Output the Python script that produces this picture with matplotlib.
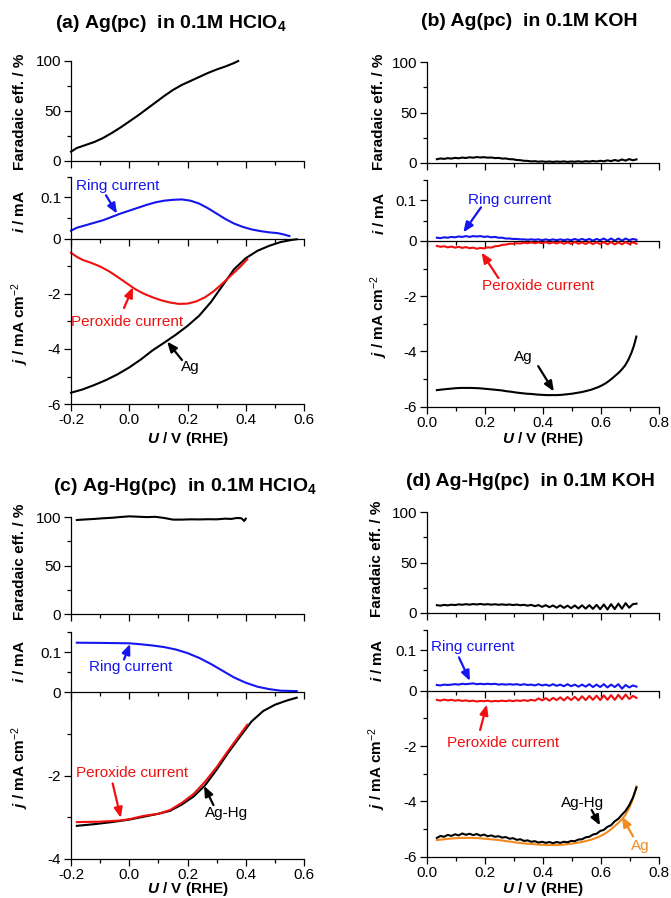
import numpy as np
import matplotlib
matplotlib.use("Agg")
import matplotlib.pyplot as plt
from matplotlib.ticker import MultipleLocator, FixedLocator, FuncFormatter

plt.rcParams['font.family'] = ['Liberation Sans', 'DejaVu Sans']
plt.rcParams['mathtext.fontset'] = 'custom'
plt.rcParams['mathtext.rm'] = 'Liberation Sans'
plt.rcParams['mathtext.it'] = 'Liberation Sans:italic:bold'
plt.rcParams['mathtext.bf'] = 'Liberation Sans:bold'

BLUE = '#1515F0'
RED = '#F01010'
ORANGE = '#F28A1E'
BLACK = '#000000'

# ---------------- Panel (a): Ag(pc) in HClO4 ----------------
U_fe_a = [-0.2, -0.18, -0.15, -0.12, -0.09, -0.06, -0.03, 0.0, 0.03, 0.06, 0.09, 0.12,
          0.15, 0.18, 0.21, 0.24, 0.27, 0.30, 0.33, 0.36, 0.374]
fe_a = [9.3, 13, 16, 19, 23, 28, 33.5, 39.5, 45.5, 52, 58.5, 65,
        71, 76, 80, 84, 88, 91.5, 94.5, 98, 100]

U_ring_a = [-0.2, -0.18, -0.15, -0.12, -0.09, -0.06, -0.03, 0.0, 0.03, 0.06, 0.09, 0.12,
            0.15, 0.18, 0.21, 0.24, 0.27, 0.30, 0.33, 0.36, 0.39, 0.42, 0.45, 0.48,
            0.51, 0.53, 0.55]
ring_a = [0.020, 0.027, 0.033, 0.039, 0.045, 0.053, 0.061, 0.068, 0.075, 0.082, 0.088, 0.092,
          0.094, 0.095, 0.092, 0.085, 0.074, 0.061, 0.048, 0.037, 0.029, 0.023, 0.019, 0.016,
          0.014, 0.011, 0.007]

U_perox_a = [-0.2, -0.18, -0.16, -0.13, -0.1, -0.07, -0.04, -0.01, 0.02, 0.05, 0.08, 0.11,
             0.14, 0.17, 0.20, 0.23, 0.26, 0.29, 0.32, 0.35, 0.38, 0.405]
perox_a = [-0.50, -0.65, -0.76, -0.87, -1.0, -1.17, -1.38, -1.60, -1.82, -1.99, -2.12, -2.23,
           -2.31, -2.36, -2.35, -2.27, -2.12, -1.90, -1.62, -1.32, -1.02, -0.74]

U_disk_a = [-0.2, -0.16, -0.12, -0.08, -0.04, 0.0, 0.04, 0.08, 0.12, 0.16, 0.2, 0.24,
            0.28, 0.32, 0.36, 0.40, 0.44, 0.48, 0.52, 0.56, 0.575]
disk_a = [-5.59, -5.47, -5.31, -5.13, -4.92, -4.67, -4.38, -4.05, -3.77, -3.48, -3.16, -2.79,
          -2.30, -1.70, -1.10, -0.70, -0.43, -0.25, -0.11, -0.03, -0.01]

# ---------------- Panels (b) and (d): KOH, common potential grid ----------------
U_koh = [0.035, 0.0475, 0.06, 0.0725, 0.085, 0.0975, 0.11, 0.1225, 0.135, 0.1475,
         0.16, 0.1725, 0.185, 0.1975, 0.21, 0.2225, 0.235, 0.2475, 0.26, 0.2725,
         0.285, 0.2975, 0.31, 0.3225, 0.335, 0.3475, 0.36, 0.3725, 0.385, 0.3975,
         0.41, 0.4225, 0.435, 0.4475, 0.46, 0.4725, 0.485, 0.4975, 0.51, 0.5225,
         0.535, 0.5475, 0.56, 0.5725, 0.585, 0.5975, 0.61, 0.6225, 0.635, 0.6475,
         0.66, 0.6725, 0.685, 0.6975, 0.71, 0.7225]

fe_b = [3.5, 4.2, 3.8, 4.5, 4.1, 4.8, 4.4, 5.1, 4.7, 5.4,
        5.0, 5.6, 5.2, 5.5, 5.0, 5.2, 4.6, 4.8, 4.1, 4.2,
        3.5, 3.4, 2.7, 2.5, 1.9, 1.8, 1.3, 1.5, 1.0, 1.3,
        0.9, 1.2, 0.8, 1.2, 0.9, 1.3, 0.8, 1.2, 1.0, 1.4,
        0.9, 1.5, 1.1, 1.7, 1.2, 1.9, 1.4, 2.3, 1.6, 2.7,
        1.8, 3.2, 2.1, 3.6, 2.4, 3.3]

ring_b = [0.008, 0.007, 0.009, 0.008, 0.010, 0.009, 0.011, 0.010, 0.012, 0.010,
          0.012, 0.011, 0.012, 0.010, 0.011, 0.009, 0.010, 0.008, 0.008, 0.006,
          0.006, 0.005, 0.005, 0.004, 0.004, 0.003, 0.004, 0.003, 0.004, 0.002,
          0.004, 0.002, 0.004, 0.002, 0.004, 0.002, 0.004, 0.002, 0.005, 0.002,
          0.005, 0.002, 0.005, 0.001, 0.005, 0.002, 0.006, 0.001, 0.006, 0.001,
          0.006, 0.001, 0.006, 0.002, 0.005, 0.003]

perox_b = [-0.18, -0.21, -0.19, -0.23, -0.20, -0.24, -0.21, -0.25, -0.22, -0.26,
           -0.24, -0.28, -0.25, -0.27, -0.23, -0.24, -0.19, -0.18, -0.14, -0.13,
           -0.10, -0.10, -0.08, -0.09, -0.06, -0.08, -0.05, -0.08, -0.05, -0.08,
           -0.04, -0.09, -0.05, -0.09, -0.04, -0.10, -0.05, -0.10, -0.04, -0.10,
           -0.05, -0.11, -0.04, -0.11, -0.05, -0.11, -0.04, -0.12, -0.04, -0.12,
           -0.05, -0.12, -0.04, -0.11, -0.05, -0.10]

U_ag_koh = [0.035, 0.06, 0.08, 0.10, 0.12, 0.15, 0.178, 0.20, 0.22, 0.24, 0.258, 0.275, 0.292,
            0.31, 0.327, 0.345, 0.362, 0.38, 0.396, 0.413, 0.43, 0.448, 0.465, 0.483, 0.5,
            0.517, 0.534, 0.55, 0.565, 0.578, 0.591, 0.603, 0.615, 0.626, 0.637, 0.648,
            0.66, 0.672, 0.683, 0.694, 0.705, 0.714, 0.722]
ag_koh = [-5.40, -5.37, -5.35, -5.33, -5.32, -5.32, -5.33, -5.35, -5.37, -5.39, -5.41,
          -5.44, -5.46, -5.49, -5.51, -5.53, -5.54, -5.56, -5.57, -5.58, -5.58, -5.58,
          -5.57, -5.55, -5.53, -5.50, -5.47, -5.43, -5.39, -5.34, -5.29, -5.23, -5.16,
          -5.08, -4.99, -4.89, -4.78, -4.65, -4.51, -4.31, -4.05, -3.78, -3.46]

fe_d = [7.5, 7.0, 7.8, 7.3, 8.0, 7.6, 8.3, 7.9, 8.5, 8.0,
        8.6, 8.2, 8.7, 8.1, 8.5, 8.0, 8.4, 7.9, 8.3, 7.8,
        8.2, 7.6, 8.1, 7.4, 7.9, 7.0, 7.8, 6.5, 7.6, 5.8,
        7.5, 5.5, 7.2, 5.0, 7.3, 4.8, 7.0, 4.5, 7.2, 4.2,
        7.4, 4.0, 7.5, 3.8, 7.8, 3.5, 8.2, 3.2, 8.5, 3.6,
        9.0, 4.0, 9.5, 5.0, 8.5, 9.0]

ring_d = [0.014, 0.013, 0.015, 0.014, 0.015, 0.016, 0.015, 0.017, 0.016, 0.017,
          0.018, 0.016, 0.017, 0.016, 0.017, 0.016, 0.017, 0.015, 0.016, 0.015,
          0.016, 0.015, 0.016, 0.014, 0.016, 0.014, 0.015, 0.013, 0.016, 0.013,
          0.015, 0.012, 0.016, 0.012, 0.015, 0.011, 0.016, 0.011, 0.015, 0.010,
          0.015, 0.010, 0.016, 0.009, 0.015, 0.009, 0.016, 0.008, 0.015, 0.009,
          0.016, 0.005, 0.014, 0.008, 0.013, 0.010]

perox_d = [-0.33, -0.36, -0.32, -0.35, -0.33, -0.36, -0.34, -0.37, -0.35, -0.38,
           -0.36, -0.39, -0.37, -0.38, -0.36, -0.39, -0.37, -0.38, -0.36, -0.38,
           -0.35, -0.38, -0.35, -0.37, -0.34, -0.37, -0.33, -0.36, -0.28, -0.35,
           -0.27, -0.36, -0.26, -0.34, -0.24, -0.35, -0.23, -0.34, -0.22, -0.35,
           -0.20, -0.34, -0.19, -0.33, -0.18, -0.34, -0.17, -0.33, -0.16, -0.33,
           -0.15, -0.31, -0.14, -0.30, -0.19, -0.26]

disk_d = [-5.32, -5.25, -5.28, -5.21, -5.25, -5.19, -5.23, -5.16, -5.21, -5.17,
          -5.22, -5.18, -5.24, -5.20, -5.26, -5.23, -5.28, -5.26, -5.31, -5.29,
          -5.35, -5.33, -5.39, -5.37, -5.43, -5.41, -5.46, -5.44, -5.49, -5.46,
          -5.50, -5.47, -5.51, -5.47, -5.50, -5.46, -5.48, -5.43, -5.44, -5.38,
          -5.37, -5.30, -5.28, -5.20, -5.17, -5.07, -5.03, -4.92, -4.86, -4.72,
          -4.63, -4.48, -4.34, -4.14, -3.87, -3.50]

# ---------------- Panel (c): Ag-Hg(pc) in HClO4 ----------------
U_fe_c = [-0.18, -0.15, -0.12, -0.09, -0.06, -0.03, 0.0, 0.03, 0.06, 0.09, 0.12, 0.15,
          0.18, 0.21, 0.24, 0.27, 0.30, 0.33, 0.35, 0.37, 0.385, 0.395, 0.40]
fe_c = [97.2, 97.8, 98.3, 99.0, 99.5, 100.3, 101.0, 100.6, 100.2, 100.5, 99.3, 97.6,
        97.6, 97.9, 97.8, 98.0, 97.9, 98.6, 98.3, 99.3, 99.0, 96.2, 98.6]

U_ring_c = [-0.18, -0.1, -0.05, 0.0, 0.04, 0.08, 0.12, 0.16, 0.2, 0.24, 0.28, 0.32,
            0.36, 0.40, 0.44, 0.48, 0.52, 0.575]
ring_c = [0.124, 0.1235, 0.123, 0.1225, 0.120, 0.117, 0.113, 0.107, 0.098, 0.086, 0.071, 0.054,
          0.037, 0.024, 0.014, 0.008, 0.004, 0.003]

U_disk_c = [-0.18, -0.12, -0.06, 0.0, 0.05, 0.1, 0.14, 0.18, 0.22, 0.26, 0.30, 0.34,
            0.38, 0.42, 0.46, 0.5, 0.54, 0.575]
disk_c = [-3.21, -3.17, -3.12, -3.06, -2.99, -2.92, -2.85, -2.70, -2.51, -2.24, -1.86, -1.45,
          -1.07, -0.70, -0.45, -0.30, -0.20, -0.13]

U_perox_c = [-0.18, -0.1, -0.03, 0.0, 0.05, 0.1, 0.14, 0.18, 0.22, 0.26, 0.30, 0.34,
             0.38, 0.405]
perox_c = [-3.12, -3.11, -3.08, -3.05, -2.97, -2.92, -2.83, -2.66, -2.45, -2.15, -1.80, -1.40,
           -1.02, -0.78]

# ---------------- figure ----------------
W, H = 671, 898
fig = plt.figure(figsize=(W / 100, H / 100), dpi=100)


def px_axes(x0, x1, ytop, ybot):
    return fig.add_axes([x0 / W, 1 - ybot / H, (x1 - x0) / W, (ybot - ytop) / H])


def style(ax, xlim, xlabels):
    ax.set_facecolor('none')
    for s in ['top', 'right']:
        ax.spines[s].set_visible(False)
    for s in ['left', 'bottom']:
        ax.spines[s].set_linewidth(0.9)
    ax.set_xlim(*xlim)
    ax.xaxis.set_major_locator(MultipleLocator(0.2))
    ax.xaxis.set_minor_locator(MultipleLocator(0.1))
    ax.tick_params(which='both', direction='out', width=0.9, labelsize=11, pad=2)
    ax.tick_params(axis='x', which='both', pad=1.5)
    ax.tick_params(which='major', length=5)
    ax.tick_params(which='minor', length=3)
    if not xlabels:
        ax.tick_params(axis='x', which='both', labelbottom=False)
    else:
        ax.xaxis.set_major_formatter(FuncFormatter(lambda v, p: f"{v:.1f}".replace('-0.0', '0.0')))


def fig_text(x, y, s, **kw):
    fig.text(x / W, 1 - y / H, s, **kw)


LW = 1.5

panels = [
    dict(x0=71, x1=304, fe=(61, 161), itop=176.5, zero=239, jbot=404, xlim=(-0.2, 0.6), jmin=-6),
    dict(x0=426.7, x1=659, fe=(62.3, 162.7), itop=179.5, zero=241, jbot=406.7, xlim=(0.0, 0.8), jmin=-6),
    dict(x0=71, x1=304, fe=(517.3, 614), itop=632.3, zero=692.3, jbot=858.7, xlim=(-0.2, 0.6), jmin=-4),
    dict(x0=426.7, x1=659, fe=(512.3, 612.7), itop=629.7, zero=690.7, jbot=856.7, xlim=(0.0, 0.8), jmin=-6),
]

axes = []
for p in panels:
    axf = px_axes(p['x0'], p['x1'], p['fe'][0], p['fe'][1])
    axi = px_axes(p['x0'], p['x1'], p['itop'], p['zero'])
    axj = px_axes(p['x0'], p['x1'], p['zero'], p['jbot'])
    style(axf, p['xlim'], False)
    style(axi, p['xlim'], False)
    style(axj, p['xlim'], True)
    axf.set_ylim(0, 100)
    axf.yaxis.set_major_locator(FixedLocator([0, 50, 100]))
    axf.yaxis.set_minor_locator(FixedLocator([25, 75]))
    axi.set_ylim(0, 0.15)
    axi.yaxis.set_major_locator(FixedLocator([0, 0.1]))
    axi.yaxis.set_minor_locator(FixedLocator([0.05, 0.15]))
    axi.yaxis.set_major_formatter(FuncFormatter(lambda v, pos: '0' if v == 0 else f"{v:.1f}"))
    axj.set_ylim(p['jmin'], 0)
    majors = list(range(p['jmin'], 0, 2))
    minors = list(range(p['jmin'] + 1, 0, 2))
    axj.yaxis.set_major_locator(FixedLocator(majors))
    axj.yaxis.set_minor_locator(FixedLocator(minors))
    axj.yaxis.set_major_formatter(FuncFormatter(lambda v, pos: f"{int(v)}"))
    axes.append((axf, axi, axj))


def arrow(ax, start, tip, color):
    ax.annotate('', xy=tip, xytext=start,
                arrowprops=dict(arrowstyle='-|>,head_length=0.6,head_width=0.25', color=color,
                                lw=1.6, shrinkA=0, shrinkB=0),
                annotation_clip=False)


def label(ax, xy, s, color):
    ax.text(xy[0], xy[1], s, color=color, fontsize=11, ha='center', va='center', clip_on=False)


# (a)
axf, axi, axj = axes[0]
axf.plot(U_fe_a, fe_a, color=BLACK, lw=LW, clip_on=False)
axi.plot(U_ring_a, ring_a, color=BLUE, lw=LW, clip_on=False)
axj.plot(U_disk_a, disk_a, color=BLACK, lw=LW, clip_on=False)
axj.plot(U_perox_a, perox_a, color=RED, lw=LW, clip_on=False)
label(axi, (-0.039, 0.128), 'Ring current', BLUE)
arrow(axi, (-0.08, 0.105), (-0.042, 0.061), BLUE)
label(axj, (-0.008, -3.01), 'Peroxide current', RED)
arrow(axj, (-0.018, -2.51), (0.013, -1.75), RED)
label(axj, (0.209, -4.64), 'Ag', BLACK)
arrow(axj, (0.181, -4.40), (0.13, -3.73), BLACK)

# (b)
axf, axi, axj = axes[1]
axf.plot(U_koh, fe_b, color=BLACK, lw=LW, clip_on=False)
axi.plot(U_koh, ring_b, color=BLUE, lw=LW, clip_on=False)
axj.plot(U_koh, perox_b, color=RED, lw=LW, clip_on=False)
axj.plot(U_ag_koh, ag_koh, color=BLACK, lw=LW, clip_on=False)
label(axi, (0.287, 0.100), 'Ring current', BLUE)
arrow(axi, (0.187, 0.082), (0.126, 0.021), BLUE)
label(axj, (0.385, -1.64), 'Peroxide current', RED)
arrow(axj, (0.247, -1.34), (0.189, -0.42), RED)
label(axj, (0.334, -4.21), 'Ag', BLACK)
arrow(axj, (0.384, -4.53), (0.438, -5.45), BLACK)

# (c)
axf, axi, axj = axes[2]
axf.plot(U_fe_c, fe_c, color=BLACK, lw=LW, clip_on=False)
axi.plot(U_ring_c, ring_c, color=BLUE, lw=LW, clip_on=False)
axj.plot(U_disk_c, disk_c, color=BLACK, lw=LW, clip_on=False)
axj.plot(U_perox_c, perox_c, color=RED, lw=LW, clip_on=False)
label(axi, (0.004, 0.064), 'Ring current', BLUE)
arrow(axi, (-0.018, 0.082), (0.003, 0.121), BLUE)
label(axj, (0.011, -1.95), 'Peroxide current', RED)
arrow(axj, (-0.057, -2.19), (-0.029, -3.02), RED)
label(axj, (0.335, -2.91), 'Ag-Hg', BLACK)
arrow(axj, (0.289, -2.71), (0.257, -2.25), BLACK)

# (d)
axf, axi, axj = axes[3]
axf.plot(U_koh, fe_d, color=BLACK, lw=LW, clip_on=False)
axi.plot(U_koh, ring_d, color=BLUE, lw=LW, clip_on=False)
axj.plot(U_koh, perox_d, color=RED, lw=LW, clip_on=False)
axj.plot(U_ag_koh, ag_koh, color=ORANGE, lw=LW, clip_on=False)
axj.plot(U_koh, disk_d, color=BLACK, lw=LW, clip_on=False)
label(axi, (0.158, 0.107), 'Ring current', BLUE)
arrow(axi, (0.111, 0.082), (0.149, 0.024), BLUE)
label(axj, (0.262, -1.90), 'Peroxide current', RED)
arrow(axj, (0.184, -1.42), (0.207, -0.50), RED)
label(axj, (0.538, -4.05), 'Ag-Hg', BLACK)
arrow(axj, (0.568, -4.31), (0.597, -4.87), BLACK)
label(axj, (0.737, -5.61), 'Ag', ORANGE)
arrow(axj, (0.711, -5.27), (0.672, -4.55), ORANGE)

# titles
tkw = dict(fontsize=14, fontweight='bold', ha='center', va='center')
fig_text(171, 23, r'(a) Ag(pc)  in 0.1M HClO$_\mathbf{4}$', **tkw)
fig_text(529, 22, '(b) Ag(pc)  in 0.1M KOH', **tkw)
fig_text(185, 486, r'(c) Ag-Hg(pc)  in 0.1M HClO$_\mathbf{4}$', **tkw)
fig_text(530, 482, '(d) Ag-Hg(pc)  in 0.1M KOH', **tkw)

# axis labels
lkw = dict(fontsize=11, fontweight='bold', ha='center', va='center')
ylab_pos = [
    dict(x=20, fe=111.5, i=211, j=323),
    dict(x=379, fe=111.5, i=213, j=316),
    dict(x=20, fe=562, i=661, j=767),
    dict(x=377, fe=558.5, i=660, j=768),
]
for lp in ylab_pos:
    fig_text(lp['x'], lp['fe'], 'Faradaic eff. / %', rotation=90, **lkw)
    fig_text(lp['x'], lp['i'], r'$\it{i}$ / mA', rotation=90, **lkw)
    fig_text(lp['x'], lp['j'], r'$\it{j}$ / mA cm$^{-2}$', rotation=90, **lkw)

for (xc, yc) in [(187.5, 439), (543, 439), (187.5, 889.5), (543, 889.5)]:
    fig_text(xc, yc, r'$\it{U}$ / V (RHE)', **lkw)

fig.savefig('out.png', dpi=100)
